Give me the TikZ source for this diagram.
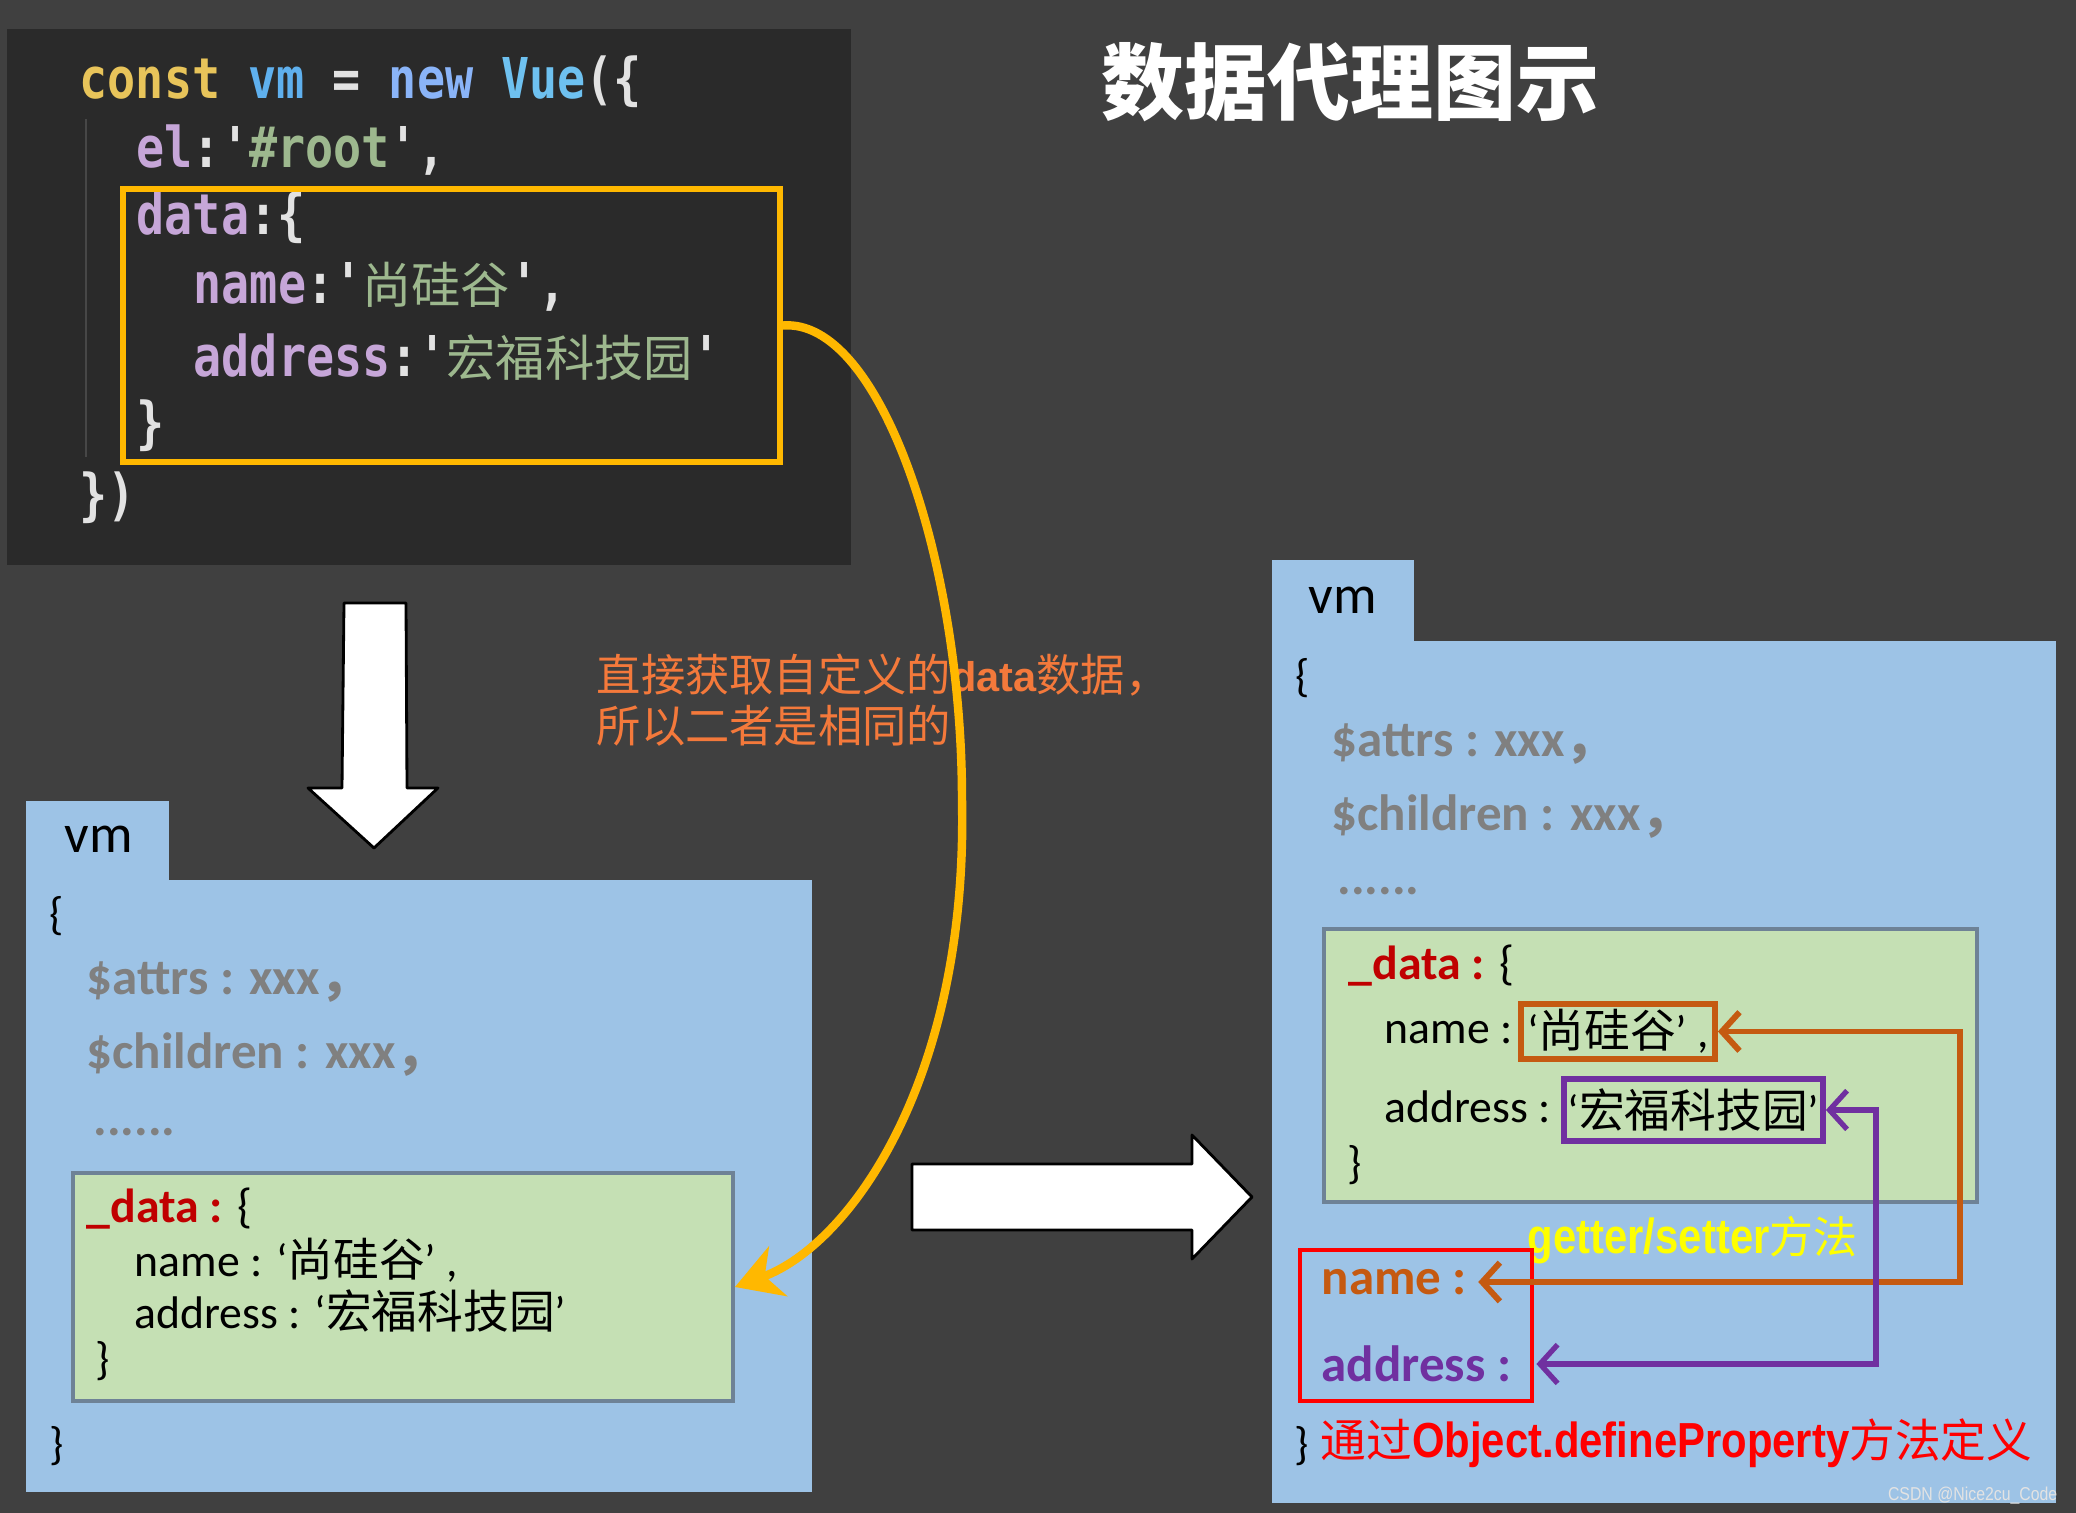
\documentclass[tikz,border=0pt]{standalone}
\usepackage{fontspec}
\setmainfont{Carlito}
\newfontfamily\cjk{Noto Sans CJK SC}
\newfontfamily\codefont[FakeStretch=0.83]{DejaVu Sans Mono}
\newfontfamily\arialn[FakeStretch=0.85]{Liberation Sans}
\newfontfamily\arialf{Liberation Sans}
\newcommand{\zht}[1]{{\cjk #1}}
\usetikzlibrary{arrows.meta}

\definecolor{bgdark}{HTML}{404040}
\definecolor{codebg}{HTML}{2A2A2A}
\definecolor{codeguide}{HTML}{474747}
\definecolor{codepunct}{HTML}{E2E2E2}
\definecolor{kwgold}{HTML}{E8C45A}
\definecolor{vmblue}{HTML}{5FB0EE}
\definecolor{newblue}{HTML}{8AB4F8}
\definecolor{vueblue}{HTML}{6EC1F0}
\definecolor{codeprop}{HTML}{C6A6D8}
\definecolor{codestr}{HTML}{9DB88E}
\definecolor{panelblue}{HTML}{9DC3E6}
\definecolor{greenfill}{HTML}{C5E0B4}
\definecolor{greenedge}{HTML}{6E8296}
\definecolor{greytext}{HTML}{808080}
\definecolor{datared}{HTML}{C00000}
\definecolor{boxorange}{HTML}{C55A11}
\definecolor{boxpurple}{HTML}{7030A0}
\definecolor{propred}{HTML}{FF0000}
\definecolor{arrowyellow}{HTML}{FFB800}
\definecolor{noteorange}{HTML}{F4793B}
\definecolor{getyellow}{HTML}{FFFF00}

\tikzset{
  panel/.style={fill=panelblue},
  codeln/.style={anchor=west, inner sep=0pt, text=codepunct, font=\codefont\bfseries\fontsize{16}{18}\selectfont},
  paneltxt/.style={anchor=west, inner sep=0pt, text=black, font=\fontsize{13}{15}\selectfont},
  vmtxt/.style={paneltxt, font=\fontsize{15.5}{17}\selectfont},
  greytxt/.style={paneltxt, text=greytext, font=\bfseries\fontsize{14.5}{16}\selectfont},
  datatxt/.style={paneltxt, font=\fontsize{13.6}{16}\selectfont},
  proptxt/.style={paneltxt, font=\bfseries\fontsize{14.5}{16}\selectfont},
  gbox/.style={draw=greenedge, fill=greenfill, line width=1pt, inner sep=0pt},
  valbox/.style={line width=1.6pt, inner sep=0pt, font=\fontsize{13}{15}\selectfont},
  notetxt/.style={anchor=west, inner sep=0pt, text=noteorange, font=\cjk\fontsize{12.6}{14}\selectfont},
  yarrow/.style={draw=arrowyellow, line width=2.4pt, -{Stealth[length=13pt,width=15pt,inset=4pt]}},
  oline/.style={draw=boxorange, line width=1.7pt, {Straight Barb[length=5pt,width=11pt]}-{Straight Barb[length=5pt,width=11pt]}},
  pline/.style={oline, draw=boxpurple, line width=1.5pt},
  blockarrow/.style={fill=white, draw=black, line width=0.8pt, line join=round},
}

\begin{document}
\begin{tikzpicture}[x=0.01cm, y=-0.01cm]
\useasboundingbox (0,0) rectangle (2076,1513);
\fill[bgdark] (0,0) rectangle (2076,1513);

% code panel
\fill[codebg] (7,29) rectangle (851,565);
\draw[codeguide, line width=0.6pt] (86,119) -- (86,457);
\node[codeln] (c1) at (79,82) {\textcolor{kwgold}{const} \textcolor{vmblue}{vm} = \textcolor{newblue}{new} \textcolor{vueblue}{Vue}(\{};
\node[codeln] (c2) at (136,150) {\textcolor{codeprop}{el}:'\textcolor{codestr}{\#root}',};
\node[codeln] (c3) at (136,218) {\textcolor{codeprop}{data}:\{};
\node[codeln] (c4) at (193,287) {\textcolor{codeprop}{name}:'\textcolor{codestr}{\cjk\mdseries\fontsize{14}{16}\selectfont 尚硅谷}',};
\node[codeln] (c5) at (193,357) {\textcolor{codeprop}{address}:'\textcolor{codestr}{\cjk\mdseries\fontsize{14}{16}\selectfont 宏福科技园}'};
\node[codeln] (c6) at (136,426) {\}};
\node[codeln] (c7) at (79,498) {\})};
\node[draw=arrowyellow, line width=1.6pt, minimum width=6.57cm, minimum height=2.73cm, inner sep=0pt] (datarect) at (451.5,325.5) {};

% title
\node[text=white, font=\cjk\bfseries\fontsize{23.6}{28}\selectfont] (title) at (1350,82) {数据代理图示};

% note
\node[notetxt] (note1) at (596,675) {直接获取自定义的{\arialf\bfseries\fontsize{11.8}{13}\selectfont data}数据，};
\node[notetxt] (note2) at (596,726) {所以二者是相同的};

% left vm
\fill[panel] (26,801) rectangle (169,881);
\fill[panel] (26,880) rectangle (812,1492);
\node[vmtxt] (lvm) at (64,839) {vm};
\node[paneltxt] (lopen) at (49,916) {\{};
\node[greytxt] (lattrs) at (86,982) {\$attrs : xxx\zht{，}};
\node[greytxt] (lchild) at (86,1055) {\$children : xxx\zht{，}};
\node[greytxt] (ldots) at (93,1132) {......};
\node[gbox, minimum width=6.60cm, minimum height=2.28cm] (ldata) at (403,1287) {};
\node[datatxt] (ldkey) at (86,1209) {\textcolor{datared}{\bfseries\_data :} \{};
\node[paneltxt] (lname) at (134,1260) {name : ‘\zht{尚硅谷}’ ,};
\node[paneltxt] (laddr) at (134,1311) {address : ‘\zht{宏福科技园}’};
\node[paneltxt] (ldclose) at (95,1361) {\}};
\node[paneltxt] (lclose) at (49,1446) {\}};

% right vm
\fill[panel] (1272,560) rectangle (1414,642);
\fill[panel] (1272,641) rectangle (2056,1503);
\node[vmtxt] (rvm) at (1308,600) {vm};
\node[paneltxt] (ropen) at (1295,678) {\{};
\node[greytxt] (rattrs) at (1331,744) {\$attrs : xxx\zht{，}};
\node[greytxt] (rchild) at (1331,817) {\$children : xxx\zht{，}};
\node[greytxt] (rdots) at (1337,891) {......};
\node[gbox, minimum width=6.53cm, minimum height=2.73cm] (rdata) at (1650.5,1065.5) {};
\node[datatxt] (rdkey) at (1348,966) {\textcolor{datared}{\bfseries\_data :} \{};
\node[paneltxt] (rname) at (1384,1033) {name :};
\node[valbox, draw=boxorange, minimum width=1.94cm, minimum height=0.55cm] (namebox) at (1618,1031.5) {‘\zht{尚硅谷}’ ,};
\node[paneltxt] (raddr) at (1384,1107) {address :};
\node[valbox, draw=boxpurple, minimum width=2.59cm, minimum height=0.62cm] (addrbox) at (1693.5,1110) {‘\zht{宏福科技园}’};
\node[paneltxt] (rdclose) at (1347,1165) {\}};

\node[paneltxt, text=getyellow, font=\fontsize{14}{16}\selectfont] (getset) at (1527,1240) {{\arialn\bfseries getter/setter}{\cjk\fontsize{12.5}{14}\selectfont 方法}};
\node[draw=propred, line width=1.2pt, minimum width=2.32cm, minimum height=1.51cm, inner sep=0pt] (propbox) at (1416,1325.5) {};
\node[proptxt, text=boxorange] (pname) at (1321,1282) {name :};
\node[proptxt, text=boxpurple] (paddr) at (1321,1364) {address :};
\node[paneltxt] (rclose) at (1294,1446) {\}};
\node[paneltxt, text=propred, font=\fontsize{13}{15}\selectfont] (defprop) at (1320,1443) {\zht{通过}{\arialn\bfseries\fontsize{14}{16}\selectfont Object.defineProperty}\zht{方法定义}};

% big arrows
\draw[blockarrow] (344,603) -- (406,603) -- (407,788) -- (438,788) -- (374,848) -- (308,788) -- (342,788) -- cycle;
\draw[blockarrow] (912,1164) -- (1192,1164) -- (1192,1135) -- (1252,1197) -- (1192,1259) -- (1192,1230) -- (912,1230) -- cycle;

% connectors
\draw[yarrow] (datarect.east) .. controls (880,318) and (962,560) .. (962,800) .. controls (968,1080) and (850,1245) .. (ldata.east);
\draw[oline] (namebox.east) -- (1960,1031.5) |- ([xshift=3pt]pname.east);
\draw[pline] (addrbox.east) -- (1876,1110) |- ([xshift=7pt]paddr.east);

\node[anchor=east, inner sep=0pt, text=white!78!gray, font=\arialn\fontsize{5.3}{6}\selectfont] (mark) at (2058,1496) {CSDN @Nice2cu\_Code};
\end{tikzpicture}
\end{document}
